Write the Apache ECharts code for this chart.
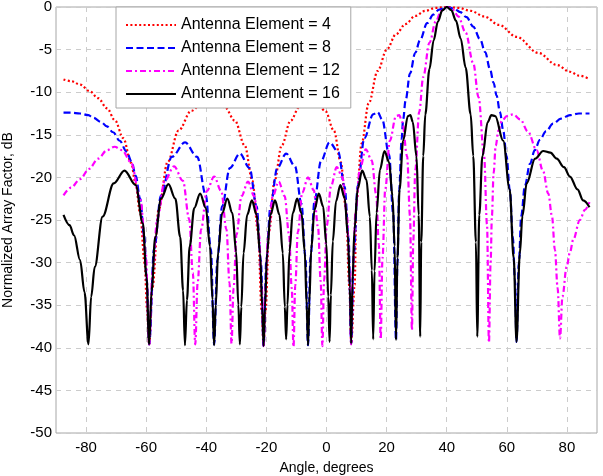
<!DOCTYPE html>
<html>
<head>
<meta charset="utf-8">
<title>Array Factor</title>
<script src="https://cdn.jsdelivr.net/npm/echarts@6/dist/echarts.min.js"></script>
<style>
  html, body { margin: 0; padding: 0; background: #fff; }
  #chart { width: 603px; height: 476px; }
</style>
</head>
<body>
<div id="chart"></div>
<script>
// values (angle in degrees, normalized array factor in dB)
var xTicks = [-80, -60, -40, -20, 0, 20, 40, 60, 80];
var names = ['Antenna Element = 4', 'Antenna Element = 8', 'Antenna Element = 12', 'Antenna Element = 16'];

var angle4 = [-87.5, -85, -82, -78.7, -76, -73, -70.4, -67.6, -65, -63.5, -62, -60.5, -59.7, -59.0,
  -57.9, -55.81, -52.86, -49.21, -45.0, -41.09, -37.39, -33.86, -30.48, -27.21, -24.66, -22.78, -21.55, -20.93,
  -20.32, -19.1, -17.29, -14.9, -11.96, -9.04, -6.15, -3.28, -0.41, 2.45, 4.75, 6.48, 7.63, 8.21,
  9.37, 9.95, 11.7, 14.05, 17.03, 20.05, 23.13, 26.28, 29.53, 32.87, 36.36, 40, 43.85, 47.97, 52.44, 57.43,
  63.22, 70.54, 76.6, 81, 84, 87.5];
var af4 = [-8.5, -8.7, -9.1, -9.9, -10.7, -11.9, -13.3, -15.4, -18.3, -20.8, -24.2, -30.1, -35.5, -39.6,
  -32.9, -23.7, -18.2, -14.5, -12.2, -11.2, -11.05, -11.75, -13.35, -16.25, -20.4, -26.3, -35.8, -39.8,
  -35.8, -26.3, -20.4, -16.25, -13.35, -11.75, -11.05, -11.2, -12.2, -14.5, -18.2, -23.7, -32.9, -39.5,
  -32.6, -22.8, -16.0, -11.3, -7.5, -5.0, -3.2, -2.0, -1.05, -0.45, -0.1, 0, -0.1, -0.45, -1.1, -2.1,
  -3.5, -5.4, -6.8, -7.6, -8.05, -8.45];

var angle8 = [-87.5, -85, -82, -79.2, -77.6, -75, -73.1, -71, -68.8, -66.5, -64.8, -63.5, -62, -60.7, -59.8, -59.0,
  -57.38, -55.05, -51.47, -47.07, -43.02, -40.14, -38.48, -37.39,
  -36.31, -34.73, -32.16, -28.83, -25.61, -23.25, -21.85, -20.93,
  -20.01, -18.65, -16.39, -13.43, -10.5, -8.32, -7.02, -6.15,
  -5.29, -4.0, -1.85, 1.02, 3.89, 6.04, 7.34, 8.21,
  9.08, 10.39, 12.58, 15.53, 17.03, 18.53, 20.81, 22.2, 23.13,
  23.6, 24.2, 25.0, 25.5, 26.3, 27.8, 29.5, 31.1, 33.5, 35.5, 37.5, 40, 42.5, 44.5, 46.6, 48.8, 51.1, 52.8,
  54.4, 55.6, 56.6, 57.7, 58.8, 59.9, 61, 62, 62.7, 63.22,
  64.0, 64.8, 66, 67.7, 69.3, 71.0, 73, 75.4, 78, 81, 84, 87.5];
var af8 = [-12.4, -12.4, -12.5, -12.7, -13.0, -13.5, -14.0, -14.7, -15.7, -17.0, -18.2, -19.8, -22.5, -26.8, -32, -39.6,
  -28.4, -22.1, -17.6, -15.9, -17.6, -22.1, -28.4, -39.6,
  -29.7, -23.4, -18.9, -17.2, -18.9, -23.4, -29.7, -39.8,
  -29.7, -23.4, -18.9, -17.2, -18.7, -23.1, -29.3, -39.7,
  -29.3, -22.8, -18.1, -15.9, -17.0, -21.1, -27.1, -39.5,
  -29.0, -21.0, -15.4, -12.6, -12.35, -13.2, -17.3, -24.3, -39.1,
  -30, -21.5, -15.5, -13.2, -11.0, -7.8, -5.4, -3.9, -1.9, -0.9, -0.3, 0, -0.2, -0.6, -1.2, -2.3, -3.8, -5.3,
  -7.3, -8.9, -10.4, -12.3, -14.5, -17.5, -21.5, -27, -32, -39.3,
  -30, -24.5, -21, -18.4, -16.8, -15.6, -14.6, -13.7, -13.1, -12.7, -12.5, -12.5];

var angle12 = [-87.5, -85, -82, -79, -76, -73, -70.5, -68, -65.1, -61.9, -60.14, -59.0,
  -57.9, -56.32, -53.82, -50.7, -47.77, -45.68, -44.47, -43.67,
  -42.88, -41.72, -39.83, -37.39, -35.03, -33.29, -32.27, -31.6,
  -30.92, -29.93, -28.28, -26.14, -24.03, -22.47, -21.55, -20.93,
  -20.32, -19.4, -17.89, -15.9, -13.92, -12.45, -11.57, -10.98,
  -10.4, -9.53, -8.08, -6.15, -4.24, -2.8, -1.94, -1.37,
  -0.8, 0.06, 1.5, 3.41, 5.32, 6.77, 7.63, 8.21,
  8.79, 9.66, 11.12, 13.07, 15.04, 16.53, 17.43, 18.03,
  18.63, 19.54, 21.07, 23.13, 24.17, 25.22, 26.81, 27.78, 28.43,
  28.87, 29.53, 30.85, 32.19, 34.25, 36.36, 38.16, 40, 41.9, 43.85, 46.29, 48.83, 50.6, 52.44, 53.4, 54.05,
  54.6, 55.04, 55.6, 56.3, 57.2, 58.3, 60, 62.1, 64.5, 67, 69.9, 72, 73.8, 75, 76, 76.9, 77.7,
  78.5, 79.9, 81, 82.1, 84.3, 86, 87.5];
var af12 = [-22.1, -21.2, -20.2, -19.0, -17.8, -16.8, -16.4, -16.8, -18.2, -22.6, -28.9, -39.6,
  -31.2, -24.9, -20.4, -18.7, -20.4, -24.9, -31.2, -39.6,
  -32.4, -26.1, -21.6, -19.9, -21.6, -26.1, -32.4, -39.5,
  -33.0, -26.7, -22.2, -20.5, -22.2, -26.7, -33.0, -39.8,
  -33.0, -26.7, -22.2, -20.5, -22.2, -26.7, -33.0, -39.9,
  -32.7, -26.4, -21.8, -20.0, -21.5, -25.9, -32.2, -39.8,
  -32.1, -25.7, -21.0, -18.8, -20.0, -24.3, -30.5, -39.6,
  -30.8, -24.1, -19.0, -16.7, -18.0, -22.0, -27.9, -39.0,
  -29.5, -21.4, -15.7, -12.8, -12.7, -13.5, -17.5, -24.5, -37.9,
  -27.5, -19.15, -12.3, -8.2, -4.2, -1.7, -0.45, 0, -0.25, -1.1, -3.0, -6.6, -10.6, -17.5, -25.5, -39.4,
  -30, -24.5, -19.5, -16.3, -14.5, -13.4, -12.8, -12.6, -13.2, -14.6, -16.8, -19.2, -21.9, -24.5, -28.5, -33, -38.9,
  -34.0, -30.5, -28.8, -27.3, -25.0, -23.8, -22.9];

var angle16 = [-87.5, -85.5, -84, -82, -80.5, -79.2,
  -78.3, -77.1, -74.5, -70.8, -67.2, -63.5, -61.1, -59.9, -59.0,
  -58.2, -56.98, -55.05, -52.6, -50.3, -48.67, -47.71, -47.1,
  -46.44, -45.52, -44.0, -42.05, -40.14, -38.76, -37.93, -37.4,
  -36.85, -36.05, -34.73, -33.0, -31.31, -30.07, -29.32, -28.83,
  -28.34, -27.61, -26.40, -24.82, -23.25, -22.09, -21.39, -20.93,
  -20.47, -19.78, -18.65, -17.14, -15.65, -14.54, -13.87, -13.43,
  -12.99, -12.33, -11.23, -9.77, -8.32, -7.24, -6.59, -6.15,
  -5.72, -5.08, -4.0, -2.56, -1.13, -0.06, 0.59, 1.02,
  1.45, 2.1, 3.17, 4.61, 6.04, 7.12, 7.78, 8.21,
  8.64, 9.3, 10.39, 11.85, 13.31, 14.42, 15.09, 15.53,
  15.98, 16.65, 17.78, 19.29, 20.81, 21.96, 22.66, 23.13,
  23.6, 24.3, 25.49, 27.08, 27.89, 28.71, 29.93, 30.68, 31.18,
  31.52, 32.19, 32.87, 34.25, 35.65, 37.07, 38.52, 40, 41.52, 43.06, 44.65, 46.29, 47.97, 48.83, 49.71, 50.16,
  50.83, 51.87, 53.64, 54.87, 56.13, 58.8, 60.93, 62.29, 63.22,
  64.3, 65.2, 66.6, 69.4, 72.1, 74.5, 76.6, 79, 81, 83.5, 85.4, 87.5];
var af16 = [-24.4, -25.6, -26.8, -29.7, -33.5, -39.6,
  -34.0, -30.5, -24.6, -20.7, -19.2, -20.9, -25.4, -31.7, -39.6,
  -33.3, -27.0, -22.5, -20.8, -22.5, -27.0, -33.3, -39.7,
  -34.4, -28.1, -23.6, -21.9, -23.6, -28.1, -34.4, -39.7,
  -35.0, -28.7, -24.2, -22.5, -24.2, -28.7, -35.0, -39.6,
  -35.2, -28.9, -24.4, -22.7, -24.4, -28.9, -35.2, -39.8,
  -35.2, -28.9, -24.4, -22.7, -24.4, -28.9, -35.2, -39.0,
  -35.0, -28.7, -24.2, -22.5, -24.2, -28.7, -35.0, -39.7,
  -34.7, -28.4, -23.8, -21.9, -23.4, -27.8, -34.0, -39.3,
  -33.8, -27.5, -22.8, -20.9, -22.4, -26.8, -33.0, -39.5,
  -32.4, -26.1, -21.3, -19.2, -20.3, -24.6, -30.9, -39.0,
  -31.0, -24.2, -19.1, -16.9, -18.2, -22.2, -28.1, -39.1,
  -29.5, -21.4, -15.7, -12.8, -12.7, -13.5, -17.5, -24.4, -38.7,
  -27.6, -17.5, -12.6, -7.3, -3.9, -1.7, -0.4, 0, -0.37, -1.6, -3.7, -7.1, -12.6, -17.5, -27.6, -38.7,
  -24.4, -17.5, -13.5, -12.7, -12.8, -15.7, -21.4, -29.5, -39.3,
  -29, -24.5, -20.7, -17.8, -16.9, -17.1, -17.8, -18.8, -19.9, -21.4, -22.7, -23.5];

function pairs(xs, ys) {
  return xs.map(function (x, i) { return [x, ys[i]]; });
}

var font = "'Liberation Sans', Arial, sans-serif";

var chart = echarts.init(document.getElementById('chart'), null, { renderer: 'canvas' });
chart.setOption({
  animation: false,
  backgroundColor: '#fff',
  textStyle: { fontFamily: font },
  grid: {
    left: 56, right: 6, top: 7, bottom: 43,
    outerBoundsMode: 'none',
    show: true, borderColor: '#a6a6a6', borderWidth: 1
  },
  legend: {
    orient: 'vertical',
    left: 116, top: 7,
    itemWidth: 50, itemHeight: 14, itemGap: 7,
    padding: [10, 11, 6, 9],
    backgroundColor: '#fff',
    borderColor: '#a6a6a6', borderWidth: 1,
    itemStyle: { opacity: 0 },
    textStyle: { fontSize: 16, color: '#000', fontFamily: font },
    data: names
  },
  xAxis: {
    type: 'value', min: -90, max: 90,
    name: 'Angle, degrees', nameLocation: 'middle', nameGap: 28,
    nameTextStyle: { fontSize: 14, color: '#000', fontFamily: font },
    axisLine: { show: false },
    axisTick: { show: false, customValues: xTicks },
    axisLabel: { customValues: xTicks, fontSize: 15, color: '#000', margin: 7, fontFamily: font },
    splitLine: { show: true, lineStyle: { color: '#cccccc', type: [5, 5], width: 1 } }
  },
  yAxis: {
    type: 'value', min: -50, max: 0, interval: 5,
    name: 'Normalized Array Factor, dB', nameLocation: 'middle', nameGap: 41,
    nameTextStyle: { fontSize: 14, color: '#000', fontFamily: font },
    axisLine: { show: false },
    axisTick: { show: false },
    axisLabel: { fontSize: 15, color: '#000', margin: 4, fontFamily: font },
    splitLine: { show: true, lineStyle: { color: '#cccccc', type: [5, 5], width: 1 } }
  },
  series: [
    {
      name: names[0], type: 'line', data: pairs(angle4, af4),
      showSymbol: false, symbol: 'none', smooth: 0.35, smoothMonotone: 'x',
      lineStyle: { color: '#ff0000', width: 2.2, type: [2, 2.4] },
      itemStyle: { color: '#ff0000' }
    },
    {
      name: names[1], type: 'line', data: pairs(angle8, af8),
      showSymbol: false, symbol: 'none', smooth: 0.35, smoothMonotone: 'x',
      lineStyle: { color: '#0000ff', width: 2.2, type: [7, 3.5] },
      itemStyle: { color: '#0000ff' }
    },
    {
      name: names[2], type: 'line', data: pairs(angle12, af12),
      showSymbol: false, symbol: 'none', smooth: 0.35, smoothMonotone: 'x',
      lineStyle: { color: '#ff00ff', width: 2.2, type: [6, 3, 2, 3] },
      itemStyle: { color: '#ff00ff' }
    },
    {
      name: names[3], type: 'line', data: pairs(angle16, af16),
      showSymbol: false, symbol: 'none', smooth: 0.35, smoothMonotone: 'x',
      lineStyle: { color: '#000000', width: 2.2 },
      itemStyle: { color: '#000000' }
    }
  ]
});
</script>
</body>
</html>
